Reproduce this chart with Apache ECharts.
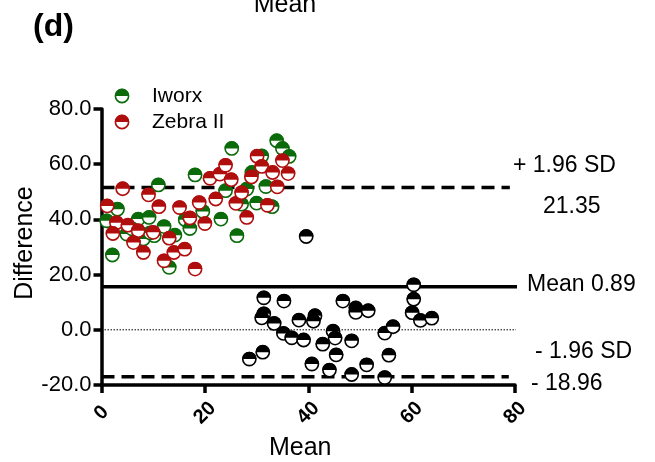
<!DOCTYPE html>
<html>
<head>
<meta charset="utf-8">
<script src="https://cdn.jsdelivr.net/npm/echarts@6/dist/echarts.min.js"></script>
<style>html,body{margin:0;padding:0;background:#fff;}#c{width:655px;height:462px;}</style>
</head>
<body>
<div id="c"></div>
<script>
// ---- data ----
const iworxX = [1.0,3.1,2.1,4.9,7.1,9.2,8.1,10.2,11.0,12.1,14.2,13.1,16.2,17.1,18.1,19.6,23.1,24.0,25.2,26.2,27.1,28.1,29.1,30.0,31.0,31.8,33.0,33.9,35.0,36.3,5.9,9.4];
const iworxY = [39.5,43.7,27.1,34.7,40.1,40.7,32.9,34.1,52.5,37.4,34.3,22.6,39.9,36.7,56.1,42.9,40.1,50.4,65.7,34.1,45.5,51.0,57.0,45.9,63.0,51.9,44.6,68.5,65.7,62.8,36.6,35.1];
const zebraX = [1.1,4.1,2.9,5.1,2.2,7.1,6.2,8.1,9.1,10.0,11.1,13.1,12.1,14.0,15.1,16.1,17.1,18.1,18.9,20.0,21.0,22.1,22.9,24.0,25.1,26.0,27.1,28.1,29.0,30.1,31.0,32.1,33.1,34.0,35.0,36.1];
const zebraY = [44.9,51.1,38.8,37.9,34.9,35.9,31.6,28.0,48.9,35.3,44.6,33.2,25.0,28.0,44.3,29.2,40.5,22.0,46.1,38.5,54.9,47.4,56.4,59.6,54.4,45.8,49.7,40.7,55.4,62.9,59.2,45.1,57.0,51.8,61.3,56.6];
const blackX = [60.4,60.4,60.1,61.7,63.9,31.4,35.3,46.7,49.2,49.2,51.6,31.4,31.0,33.4,38.2,41.3,41.0,35.2,36.8,39.1,42.8,44.8,45.2,48.4,54.8,56.4,28.6,31.2,45.4,40.7,44.1,51.3,55.6,48.4,54.8,39.6];
const blackY = [16.3,11.1,6.2,3.4,4.2,11.6,10.4,10.4,7.9,6.3,6.9,5.8,4.3,2.3,3.5,5.1,3.1,-1.3,-2.9,-3.7,-5.2,-0.5,-3.0,-4.0,-1.2,1.1,-10.6,-8.1,-9.1,-12.4,-14.6,-12.7,-9.2,-16.2,-17.3,33.8];
const upperSD = 51.6, meanDiff = 15.6, lowerSD = -17.0;
const upperLineX = [0, 79.0], meanLineX = [0, 81.1], zeroLineX = [0, 80.3], lowerLineX = [0, 78.8];
const xTicks = [0, 20, 40, 60, 80];
const yTicks = [-20, 0, 20, 40, 60, 80];
const seriesNames = ['Iworx', 'Zebra II'];
const rightLabels = ['+ 1.96 SD', '21.35', 'Mean 0.89', '- 1.96 SD', '- 18.96'];

const GREEN = '#0b6b0b', RED = '#b00d0d', BLACK = '#000000';
const R = 6.6;

function pairs(xs, ys){ return xs.map((x,i)=>[x, ys[i]]); }
function halfMarker(color){
  return function(params, api){
    const p = api.coord([api.value(0), api.value(1)]);
    return {
      type: 'group',
      children: [
        {type:'circle', shape:{cx:p[0], cy:p[1], r:R}, style:{fill:'#fff', stroke:color, lineWidth:1.6}},
        {type:'sector', shape:{cx:p[0], cy:p[1], r0:0, r:R+0.6, startAngle:Math.PI, endAngle:2*Math.PI, clockwise:true}, style:{fill:color}}
      ]
    };
  };
}
function hLine(xs, y){ return xs.map(x=>[x, y]); }

const chart = echarts.init(document.getElementById('c'), null, {renderer:'canvas'});
const FONT = 'Liberation Sans, Arial, sans-serif';

function legendItem(y, color, text){
  return {
    type:'group',
    children:[
      {type:'circle', shape:{cx:122, cy:y, r:R}, style:{fill:'#fff', stroke:color, lineWidth:1.6}},
      {type:'sector', shape:{cx:122, cy:y, r0:0, r:R+0.6, startAngle:Math.PI, endAngle:2*Math.PI, clockwise:true}, style:{fill:color}},
      {type:'text', x:152, y:y, style:{text:text, fill:'#000', font:'21px '+FONT, verticalAlign:'middle', align:'left'}}
    ]
  };
}
function rText(x, y, t){
  return {type:'text', x:x, y:y, style:{text:t, fill:'#000', font:'23px '+FONT, verticalAlign:'middle', align:'left'}};
}

chart.setOption({
  animation:false,
  backgroundColor:'#fff',
  grid:{left:101.5, right:140, top:109, bottom:77, containLabel:false, outerBoundsMode:'none'},
  xAxis:{
    type:'value', min:0, max:80, interval:20,
    name:'Mean', nameLocation:'middle', nameGap:51, nameMoveOverlap:false,
    nameTextStyle:{fontSize:25, color:'#000', fontFamily:FONT, padding:[0,16,0,0]},
    axisLine:{show:true, onZero:false, lineStyle:{color:'#000', width:3.5}},
    axisTick:{show:true, length:8, lineStyle:{color:'#000', width:3.5}},
    axisLabel:{rotate:45, fontSize:20, fontWeight:'bold', color:'#000', fontFamily:FONT, margin:28, align:'center', verticalAlign:'middle',
      formatter:(v)=> xTicks.includes(v) ? String(v) : ''},
    splitLine:{show:false}
  },
  yAxis:{
    type:'value', min:-20, max:80, interval:20,
    name:'Difference', nameLocation:'middle', nameGap:64, nameRotate:90, nameMoveOverlap:false,
    nameTextStyle:{fontSize:25, color:'#000', fontFamily:FONT, padding:[0,0,0,8]},
    axisLine:{show:true, onZero:false, lineStyle:{color:'#000', width:3.5}},
    axisTick:{show:true, length:8, lineStyle:{color:'#000', width:3.5}},
    axisLabel:{fontSize:22, color:'#000', fontFamily:FONT, margin:10,
      formatter:(v)=> yTicks.includes(v) ? v.toFixed(1) : ''},
    splitLine:{show:false}
  },
  graphic:[
    {type:'text', x:33, y:27, style:{text:'(d)', fill:'#000', font:'bold 32px '+FONT, verticalAlign:'middle', align:'left'}},
    {type:'text', x:285, y:18, style:{text:'Mean', fill:'#000', font:'25px '+FONT, verticalAlign:'bottom', align:'center'}},
    legendItem(96, GREEN, seriesNames[0]),
    legendItem(122, RED, seriesNames[1]),
    rText(513, 166, rightLabels[0]),
    rText(543, 207, rightLabels[1]),
    rText(527, 285, rightLabels[2]),
    rText(535, 352, rightLabels[3]),
    rText(531, 384, rightLabels[4])
  ],
  series:[
    {type:'line', data:hLine(zeroLineX, 0), symbol:'none', clip:false, silent:true, z:1,
      lineStyle:{color:'#000', width:1, type:[1.5,1.5]}},
    {type:'line', data:hLine(upperLineX, upperSD), symbol:'none', clip:false, silent:true, z:1,
      lineStyle:{color:'#000', width:3.5, type:[13,7]}},
    {type:'line', data:hLine(lowerLineX, lowerSD), symbol:'none', clip:false, silent:true, z:1,
      lineStyle:{color:'#000', width:3.5, type:[13,7]}},
    {type:'line', data:hLine(meanLineX, meanDiff), symbol:'none', clip:false, silent:true, z:1,
      lineStyle:{color:'#000', width:3.5}},
    {type:'custom', name:seriesNames[0], data:pairs(iworxX, iworxY), renderItem:halfMarker(GREEN), encode:{x:0,y:1}, z:3, clip:false},
    {type:'custom', name:seriesNames[1], data:pairs(zebraX, zebraY), renderItem:halfMarker(RED), encode:{x:0,y:1}, z:4, clip:false},
    {type:'custom', name:'Black', data:pairs(blackX, blackY), renderItem:halfMarker(BLACK), encode:{x:0,y:1}, z:5, clip:false}
  ]
});
</script>
</body>
</html>
